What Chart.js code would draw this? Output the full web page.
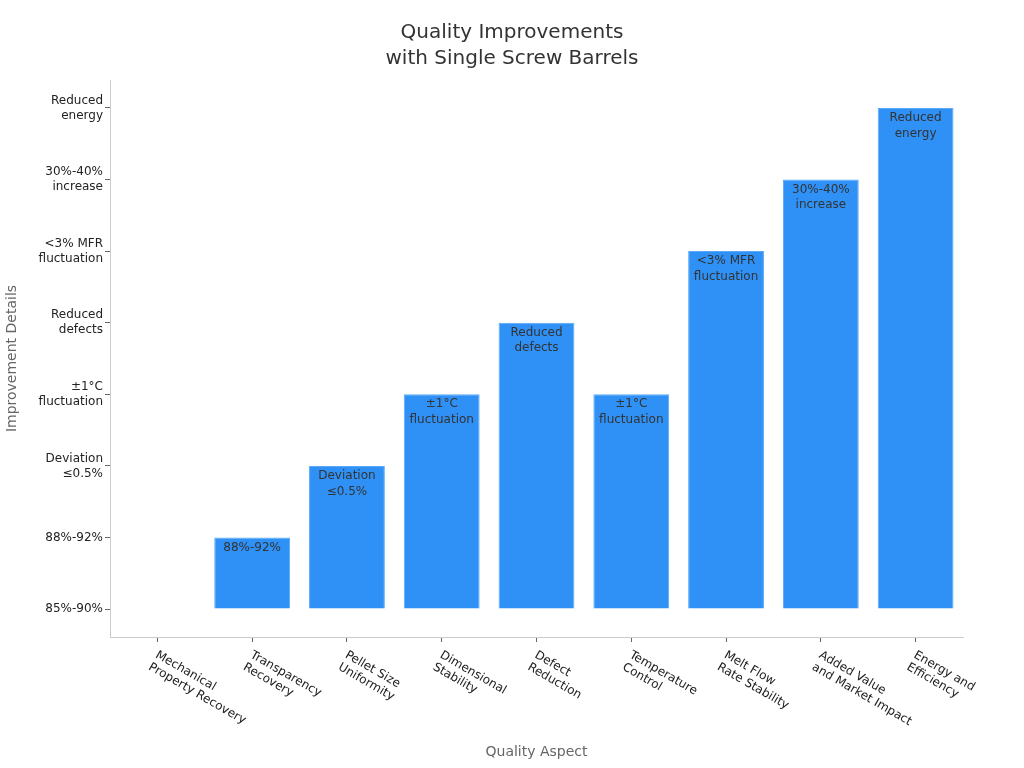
<!DOCTYPE html>
<html>
<head>
<meta charset="utf-8">
<script src="https://cdn.jsdelivr.net/npm/chart.js@4"></script>
<style>
    html, body { margin: 0; padding: 0; background: #fff; }
    #wrap { width: 1024px; height: 768px; }
</style>
</head>
<body>
<div id="wrap"><canvas id="qualityChart" width="1024" height="768"></canvas></div>
<script>
// categories along x, each split into display lines
const categories = [
    ['Mechanical', 'Property Recovery'],
    ['Transparency', 'Recovery'],
    ['Pellet Size', 'Uniformity'],
    ['Dimensional', 'Stability'],
    ['Defect', 'Reduction'],
    ['Temperature', 'Control'],
    ['Melt Flow', 'Rate Stability'],
    ['Added Value', 'and Market Impact'],
    ['Energy and', 'Efficiency']
];

// the ordered levels of the categorical y axis
const levels = [
    ['85%-90%'],
    ['88%-92%'],
    ['Deviation', '≤0.5%'],
    ['±1°C', 'fluctuation'],
    ['Reduced', 'defects'],
    ['<3% MFR', 'fluctuation'],
    ['30%-40%', 'increase'],
    ['Reduced', 'energy']
];

// level index reached by each category
const values = [0, 1, 2, 3, 4, 3, 5, 6, 7];

const titleLines = ['Quality Improvements', 'with Single Screw Barrels'];

const FONT = 'DejaVu Sans, sans-serif';

// title centred on the whole canvas, not on the padded box
const titlePlugin = {
    id: 'pageTitle',
    afterDraw(chart) {
        const ctx = chart.ctx;
        ctx.save();
        ctx.font = '20px ' + FONT;
        ctx.fillStyle = '#333';
        ctx.textAlign = 'center';
        ctx.textBaseline = 'middle';
        titleLines.forEach(function(line, i) {
            ctx.fillText(line, chart.width / 2, 33 + i * 26);
        });
        ctx.restore();
    }
};

// x tick labels drawn rotated clockwise, starting at the tick
const xLabelPlugin = {
    id: 'xLabels',
    afterDraw(chart) {
        const ctx = chart.ctx;
        const x = chart.scales.x;
        const top = chart.chartArea.bottom;
        ctx.save();
        ctx.font = '12px ' + FONT;
        ctx.fillStyle = '#222';
        ctx.textAlign = 'left';
        ctx.textBaseline = 'top';
        categories.forEach(function(lines, i) {
            const px = x.getPixelForTick(i);
            ctx.save();
            ctx.translate(px + 2, top + 12);
            ctx.rotate(30 * Math.PI / 180);
            lines.forEach(function(line, j) {
                ctx.fillText(line, 0, j * 14);
            });
            ctx.restore();
        });
        ctx.restore();
    }
};

// text inside the top of each bar
const barTextPlugin = {
    id: 'barText',
    afterDatasetsDraw(chart) {
        const ctx = chart.ctx;
        const meta = chart.getDatasetMeta(0);
        ctx.save();
        ctx.font = '12px ' + FONT;
        ctx.fillStyle = '#333';
        ctx.textAlign = 'center';
        ctx.textBaseline = 'top';
        meta.data.forEach(function(bar, i) {
            if (values[i] === 0) return;
            const lines = levels[values[i]];
            lines.forEach(function(line, j) {
                ctx.fillText(line, bar.x, bar.y + 4 + j * 15.5);
            });
        });
        ctx.restore();
    }
};

new Chart(document.getElementById('qualityChart'), {
    type: 'bar',
    data: {
        labels: categories,
        datasets: [{
            data: values,
            backgroundColor: '#2f91f5',
            borderColor: '#5aa8f7',
            borderWidth: 1,
            barPercentage: 1,
            categoryPercentage: 0.8
        }]
    },
    options: {
        responsive: false,
        animation: false,
        layout: { padding: { left: 4, right: 61, top: 80, bottom: 3 } },
        plugins: {
            legend: { display: false },
            tooltip: { enabled: false },
            title: { display: false }
        },
        scales: {
            x: {
                grid: { display: true, offset: false, drawOnChartArea: false, drawTicks: true, tickLength: 5, color: '#666' },
                border: { display: true, color: '#ccc' },
                ticks: { display: false },
                title: {
                    display: true,
                    text: 'Quality Aspect',
                    color: '#666',
                    font: { size: 14, family: FONT },
                    padding: { top: 4, bottom: 4 }
                },
                afterFit(scale) { scale.height = 128; }
            },
            y: {
                min: -0.39,
                max: 7.39,
                afterBuildTicks(scale) {
                    scale.ticks = levels.map(function(l, i) { return { value: i }; });
                },
                ticks: {
                    color: '#222',
                    padding: 2,
                    font: { size: 12, family: FONT, lineHeight: 1.25 },
                    callback: function(v) { return levels[v] || ''; }
                },
                grid: { display: true, drawOnChartArea: false, drawTicks: true, tickLength: 5, color: '#666' },
                border: { display: true, color: '#ccc' },
                title: {
                    display: true,
                    text: 'Improvement Details',
                    color: '#666',
                    font: { size: 14, family: FONT },
                    padding: { top: 0, bottom: 0 }
                },
                afterFit(scale) { scale.width = 106; }
            }
        }
    },
    plugins: [titlePlugin, xLabelPlugin, barTextPlugin]
});
</script>
</body>
</html>
